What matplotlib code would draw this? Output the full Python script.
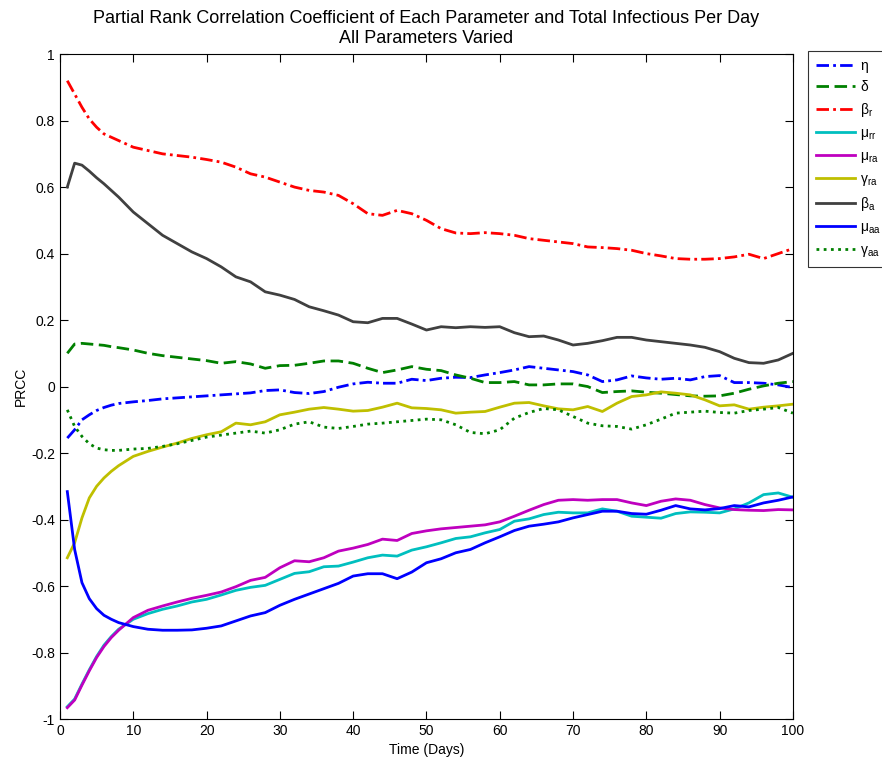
import matplotlib
matplotlib.use("Agg")
import matplotlib.pyplot as plt

plt.rcParams['font.family'] = ['Liberation Sans', 'DejaVu Sans']
plt.rcParams['mathtext.fontset'] = 'custom'
plt.rcParams['mathtext.rm'] = 'Liberation Sans'
plt.rcParams['mathtext.it'] = 'Liberation Sans'
plt.rcParams['axes.unicode_minus'] = False

days = [1, 2, 3, 4, 5, 6, 7, 8, 10, 12, 14, 16, 18, 20, 22, 24, 26, 28, 30, 32,
        34, 36, 38, 40, 42, 44, 46, 48, 50, 52, 54, 56, 58, 60, 62, 64, 66, 68,
        70, 72, 74, 76, 78, 80, 82, 84, 86, 88, 90, 92, 94, 96, 98, 100]

eta = [-0.155, -0.13, -0.1, -0.085, -0.072, -0.063, -0.056, -0.051, -0.046, -0.042,
       -0.037, -0.034, -0.031, -0.028, -0.025, -0.022, -0.019, -0.012, -0.01, -0.018,
       -0.021, -0.015, -0.002, 0.008, 0.013, 0.01, 0.01, 0.022, 0.018, 0.025,
       0.028, 0.027, 0.035, 0.042, 0.05, 0.06, 0.055, 0.05, 0.045, 0.035,
       0.015, 0.02, 0.032, 0.026, 0.022, 0.025, 0.02, 0.03, 0.033, 0.012,
       0.012, 0.01, 0.005, -0.003]
delta = [0.1, 0.128, 0.13, 0.128, 0.126, 0.124, 0.12, 0.117, 0.11, 0.1,
         0.093, 0.088, 0.083, 0.078, 0.07, 0.075, 0.068, 0.055, 0.063, 0.064,
         0.07, 0.077, 0.077, 0.07, 0.055, 0.042, 0.05, 0.06, 0.052, 0.048,
         0.035, 0.025, 0.012, 0.012, 0.015, 0.005, 0.005, 0.008, 0.008, 0.0,
         -0.018, -0.015, -0.013, -0.017, -0.02, -0.024, -0.028, -0.029, -0.028, -0.02,
         -0.008, 0.002, 0.01, 0.015]
beta_r = [0.92, 0.88, 0.84, 0.805, 0.78, 0.76, 0.75, 0.74, 0.72, 0.71,
          0.70, 0.695, 0.69, 0.683, 0.675, 0.66, 0.64, 0.63, 0.615, 0.60,
          0.59, 0.585, 0.575, 0.55, 0.52, 0.515, 0.53, 0.52, 0.50, 0.475,
          0.462, 0.46, 0.463, 0.46, 0.455, 0.445, 0.44, 0.435, 0.43, 0.42,
          0.418, 0.415, 0.41, 0.40, 0.393, 0.385, 0.383, 0.383, 0.385, 0.39,
          0.398, 0.385, 0.40, 0.415]
mu_rr = [-0.963, -0.94, -0.895, -0.852, -0.812, -0.778, -0.752, -0.73, -0.7, -0.683,
         -0.67, -0.66, -0.648, -0.64, -0.627, -0.613, -0.604, -0.598, -0.58, -0.562,
         -0.557, -0.542, -0.54, -0.528, -0.515, -0.507, -0.51, -0.492, -0.482, -0.47,
         -0.457, -0.452, -0.44, -0.43, -0.405, -0.398, -0.385, -0.378, -0.38, -0.38,
         -0.368, -0.375, -0.39, -0.393, -0.396, -0.382, -0.377, -0.378, -0.38, -0.368,
         -0.35, -0.325, -0.32, -0.333]
mu_ra = [-0.966, -0.943, -0.898, -0.855, -0.815, -0.782, -0.755, -0.733, -0.695, -0.673,
         -0.66, -0.648, -0.637, -0.628, -0.618, -0.602, -0.583, -0.574, -0.545, -0.524,
         -0.527, -0.515, -0.495, -0.486, -0.475, -0.459, -0.463, -0.442, -0.434, -0.428,
         -0.424, -0.42, -0.416, -0.407, -0.39, -0.372, -0.355, -0.342, -0.34, -0.342,
         -0.34, -0.34, -0.35, -0.358, -0.345, -0.338, -0.342, -0.355, -0.365, -0.37,
         -0.372, -0.373, -0.37, -0.371]
gamma_ra = [-0.515, -0.47, -0.395, -0.335, -0.3, -0.275, -0.255, -0.238, -0.21, -0.195,
            -0.182, -0.17, -0.156, -0.145, -0.136, -0.11, -0.115, -0.106, -0.085, -0.077,
            -0.068, -0.063, -0.068, -0.074, -0.072, -0.062, -0.05, -0.064, -0.066, -0.07,
            -0.08, -0.077, -0.075, -0.062, -0.05, -0.048, -0.058, -0.067, -0.07, -0.06,
            -0.075, -0.05, -0.03, -0.025, -0.016, -0.02, -0.025, -0.04, -0.058, -0.055,
            -0.068, -0.062, -0.058, -0.053]
beta_a = [0.60, 0.672, 0.666, 0.648, 0.628, 0.61, 0.59, 0.57, 0.525, 0.49,
          0.455, 0.43, 0.405, 0.385, 0.36, 0.33, 0.315, 0.285, 0.275, 0.262,
          0.24, 0.228, 0.215, 0.195, 0.192, 0.205, 0.205, 0.188, 0.17, 0.18,
          0.177, 0.18, 0.178, 0.18, 0.162, 0.15, 0.152, 0.14, 0.125, 0.13,
          0.138, 0.148, 0.148, 0.14, 0.135, 0.13, 0.125, 0.118, 0.105, 0.085,
          0.072, 0.07, 0.08, 0.10]
mu_aa = [-0.316, -0.49, -0.59, -0.638, -0.668, -0.688, -0.7, -0.71, -0.722, -0.73,
         -0.733, -0.733, -0.732, -0.727, -0.72, -0.705, -0.69, -0.68, -0.658, -0.64,
         -0.624, -0.608, -0.592, -0.57, -0.563, -0.563, -0.578, -0.558, -0.53, -0.518,
         -0.5, -0.49, -0.47, -0.452, -0.433, -0.42, -0.414, -0.407, -0.395, -0.385,
         -0.375, -0.375, -0.382, -0.384, -0.372, -0.358, -0.368, -0.371, -0.367, -0.358,
         -0.362, -0.35, -0.342, -0.332]
gamma_aa = [-0.07, -0.12, -0.15, -0.172, -0.185, -0.19, -0.192, -0.192, -0.188, -0.186,
            -0.18, -0.172, -0.162, -0.152, -0.146, -0.14, -0.134, -0.14, -0.13, -0.113,
            -0.106, -0.122, -0.126, -0.12, -0.113, -0.11, -0.106, -0.102, -0.098, -0.1,
            -0.115, -0.138, -0.142, -0.13, -0.095, -0.078, -0.066, -0.07, -0.09, -0.11,
            -0.118, -0.12, -0.128, -0.115, -0.098, -0.08, -0.077, -0.074, -0.078, -0.08,
            -0.072, -0.068, -0.063, -0.08]

labels = ['η', 'δ', 'β$_{r}$', 'μ$_{rr}$', 'μ$_{ra}$', 'γ$_{ra}$', 'β$_{a}$', 'μ$_{aa}$', 'γ$_{aa}$']
yticks = [-1, -0.8, -0.6, -0.4, -0.2, 0, 0.2, 0.4, 0.6, 0.8, 1]
ytick_labels = ['-1', '-0.8', '-0.6', '-0.4', '-0.2', '0', '0.2', '0.4', '0.6', '0.8', '1']

fig = plt.figure(figsize=(8.82, 7.59), dpi=100)
ax = fig.add_axes([0.068, 0.0527, 0.831, 0.876])

lw = 2
ax.plot(days, eta, color='#0000ff', lw=lw, dashes=(4.5, 1.5, 1, 1.5), label=labels[0])
ax.plot(days, delta, color='#008000', lw=lw, dashes=(4.5, 2), label=labels[1])
ax.plot(days, beta_r, color='#ff0000', lw=lw, dashes=(4.5, 1.5, 1, 1.5), label=labels[2])
ax.plot(days, mu_rr, color='#00bfbf', lw=lw, label=labels[3])
ax.plot(days, mu_ra, color='#bf00bf', lw=lw, label=labels[4])
ax.plot(days, gamma_ra, color='#bfbf00', lw=lw, label=labels[5])
ax.plot(days, beta_a, color='#404040', lw=lw, label=labels[6])
ax.plot(days, mu_aa, color='#0000ff', lw=lw, label=labels[7])
ax.plot(days, gamma_aa, color='#008000', lw=lw, dashes=(1, 1.6), label=labels[8])

ax.set_xlim(0, 100)
ax.set_ylim(-1, 1)
ax.set_xticks(range(0, 101, 10))
ax.set_yticks(yticks)
ax.set_yticklabels(ytick_labels)
ax.tick_params(direction='in', top=True, right=True, length=6, width=0.8, labelsize=10)
for s in ax.spines.values():
    s.set_linewidth(0.8)

ax.set_xlabel('Time (Days)', fontsize=10, labelpad=4)
ax.set_ylabel('PRCC', fontsize=10, labelpad=2)
ax.set_title('Partial Rank Correlation Coefficient of Each Parameter and Total Infectious Per Day\nAll Parameters Varied',
             fontsize=13, linespacing=1.2, pad=8)

leg = ax.legend(loc='upper left', bbox_to_anchor=(0.916, 0.933), bbox_transform=fig.transFigure,
                fontsize=10, frameon=True, fancybox=False, handlelength=2.8,
                handletextpad=0.35, labelspacing=0.5, borderpad=0.6, borderaxespad=0)
leg.get_frame().set_edgecolor('black')
leg.get_frame().set_linewidth(0.8)

fig.savefig('out.png', dpi=100)
